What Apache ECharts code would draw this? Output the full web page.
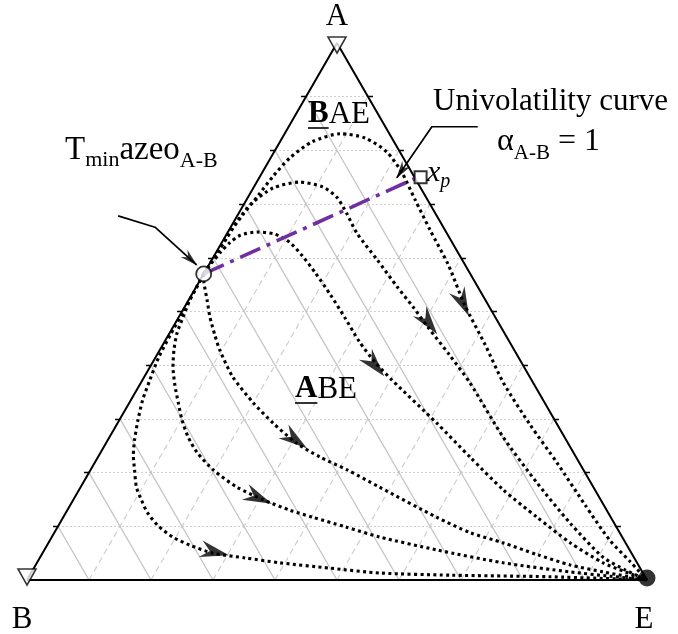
<!DOCTYPE html>
<html><head><meta charset="utf-8">
<script src="https://cdn.jsdelivr.net/npm/echarts@6/dist/echarts.min.js"></script>
<style>html,body{margin:0;padding:0;background:#fff}#c{width:678px;height:634px}</style>
</head><body><div id="c"></div>
<script>
// All compositions are ternary mole fractions [xA, xE]  (xB = 1 - xA - xE)
const gridTicks = [0.1, 0.2, 0.3, 0.4, 0.5, 0.6, 0.7, 0.8, 0.9];
const vertexA = [1, 0], vertexB = [0, 0], vertexE = [0, 1];
const azeotropeAB = [0.57, 0];
const pointXp = [0.75, 0.255];

const curve1 = [[0.57,0],[0.609,0.002],[0.642,0.003],[0.680,0.008],[0.717,0.015],[0.752,0.021],[0.786,0.031],[0.816,0.052],[0.831,0.090],[0.823,0.134],[0.797,0.182],[0.758,0.226],[0.708,0.272],[0.652,0.324],[0.587,0.386],[0.512,0.450],[0.438,0.520],[0.367,0.585],[0.289,0.667],[0.218,0.746],[0.140,0.830],[0.074,0.903],[0.034,0.956],[0,1]];
const curve2 = [[0.57,0],[0.605,0.002],[0.637,0.004],[0.670,0.005],[0.702,0.012],[0.730,0.032],[0.741,0.069],[0.732,0.111],[0.713,0.143],[0.683,0.174],[0.646,0.209],[0.596,0.267],[0.546,0.324],[0.508,0.369],[0.471,0.411],[0.419,0.472],[0.367,0.531],[0.266,0.635],[0.181,0.732],[0.106,0.823],[0.043,0.907],[0.019,0.955],[0,1]];
const curve3 = [[0.57,0],[0.592,0.003],[0.611,0.007],[0.628,0.013],[0.642,0.023],[0.648,0.047],[0.644,0.078],[0.629,0.109],[0.603,0.143],[0.572,0.179],[0.531,0.224],[0.488,0.269],[0.443,0.315],[0.406,0.358],[0.372,0.403],[0.292,0.515],[0.229,0.600],[0.168,0.684],[0.117,0.764],[0.069,0.842],[0.032,0.913],[0.015,0.958],[0,1]];
const curve4 = [[0.57,0],[0.553,0.009],[0.521,0.030],[0.490,0.050],[0.456,0.075],[0.428,0.097],[0.378,0.143],[0.330,0.200],[0.292,0.251],[0.255,0.307],[0.229,0.358],[0.205,0.414],[0.173,0.482],[0.117,0.602],[0.088,0.671],[0.069,0.734],[0.047,0.800],[0.028,0.862],[0.015,0.922],[0,1]];
const curve5 = [[0.57,0],[0.549,0.001],[0.521,0.002],[0.490,0.007],[0.460,0.012],[0.428,0.023],[0.397,0.037],[0.363,0.057],[0.330,0.079],[0.298,0.101],[0.266,0.127],[0.238,0.155],[0.205,0.198],[0.173,0.252],[0.149,0.307],[0.130,0.359],[0.117,0.402],[0.099,0.464],[0.080,0.529],[0.056,0.633],[0.032,0.752],[0.015,0.869],[0.007,0.937],[0,1]];
const curve6 = [[0.57,0],[0.540,0.001],[0.499,0.002],[0.456,0.003],[0.415,0.005],[0.372,0.012],[0.335,0.019],[0.298,0.030],[0.261,0.043],[0.233,0.055],[0.205,0.071],[0.173,0.090],[0.149,0.110],[0.125,0.132],[0.101,0.161],[0.080,0.195],[0.065,0.230],[0.050,0.275],[0.041,0.332],[0.032,0.392],[0.022,0.478],[0.013,0.563],[0.009,0.678],[0.006,0.841],[0,1]];
const arrowPoints = [[0.516,0.445],[0.479,0.408],[0.400,0.361],[0.261,0.302],[0.153,0.297],[0.052,0.277]];
const uniLeader = [[0.844,0.305],[0.844,0.231],[0.749,0.222]];
const tminLeader = [[0.678,-0.192],[0.657,-0.122],[0.587,-0.020]];

const curves = [curve1, curve2, curve3, curve4, curve5, curve6];
const S3 = Math.sqrt(3) / 2;
function P(t) { return [t[1] + t[0] / 2, t[0] * S3]; }

// grid lines
const linesA = gridTicks.map(v => ({coords: [P([v, 0]), P([v, 1 - v])]}));
const linesE = gridTicks.map(v => ({coords: [P([0, v]), P([1 - v, v])]}));
const linesB = gridTicks.map(v => ({coords: [P([1 - v, 0]), P([0, 1 - v])]}));
const tk = 0.008;
const ticks = [];
gridTicks.forEach(v => {
  const b = P([0, v]); ticks.push({coords: [b, [b[0], b[1] - tk]]});
  const l = P([v, 0]); ticks.push({coords: [l, [l[0] - tk, l[1]]]});
  const r = P([v, 1 - v]); ticks.push({coords: [r, [r[0] + tk, r[1]]]});
});

function dirDeg(a, b) { return Math.atan2(b[1] - a[1], b[0] - a[0]) * 180 / Math.PI; }
const arrowData = arrowPoints.map((ap, i) => {
  const p = P(ap), c = curves[i].map(P);
  let best = 0, bd = 1e9;
  c.forEach((q, j) => { const d = (q[0]-p[0])**2 + (q[1]-p[1])**2; if (d < bd) { bd = d; best = j; } });
  const j0 = Math.max(0, best - 1), j1 = Math.min(c.length - 1, best + 1);
  return {value: p, symbolRotate: dirDeg(c[j0], c[j1])};
});
function leaderHead(pts) {
  const a = P(pts[pts.length - 2]), b = P(pts[pts.length - 1]);
  const ang = Math.atan2(b[1] - a[1], b[0] - a[0]);
  const back = 8 / 620;
  return {value: [b[0] - Math.cos(ang) * back, b[1] - Math.sin(ang) * back], symbolRotate: ang * 180 / Math.PI};
}

const arrowPath = 'path://M28,8 L0,0 L9,8 L0,16 Z';
const dotted = {color: '#000', width: 3.1, type: [3, 3.4], cap: 'butt'};

const series = [
  {type: 'lines', coordinateSystem: 'cartesian2d', silent: true, z: 1, data: linesA, lineStyle: {color: '#cfcfcf', width: 1, type: [2, 2], opacity: 1}},
  {type: 'lines', coordinateSystem: 'cartesian2d', silent: true, z: 1, data: linesE, lineStyle: {color: '#cfcfcf', width: 1.2, type: [6, 4], opacity: 1}},
  {type: 'lines', coordinateSystem: 'cartesian2d', silent: true, z: 1, data: linesB, lineStyle: {color: '#c4c4c4', width: 1.3, type: 'solid', opacity: 1}},
  {type: 'lines', coordinateSystem: 'cartesian2d', silent: true, z: 2, data: ticks, lineStyle: {color: '#000', width: 1.3, opacity: 1}},
  {type: 'line', silent: true, z: 2, symbol: 'none', data: [P(vertexB), P(vertexE), P(vertexA), P(vertexB)], lineStyle: {color: '#000', width: 2}},
];
curves.forEach(c => series.push({type: 'line', silent: true, z: 3, symbol: 'none', smooth: 0.25, data: c.map(P), lineStyle: dotted}));
series.push({type: 'scatter', silent: true, z: 4, symbol: arrowPath, symbolSize: [29, 17], itemStyle: {color: '#000'}, data: arrowData});
series.push({type: 'line', silent: true, z: 4, symbol: 'none', data: [P(azeotropeAB), P(pointXp)], lineStyle: {color: '#7030A0', width: 3.6, type: [22, 7, 4, 7]}});
series.push({type: 'line', silent: true, z: 4, symbol: 'none', data: uniLeader.map(P), lineStyle: {color: '#000', width: 1.7}});
series.push({type: 'line', silent: true, z: 4, symbol: 'none', data: tminLeader.map(P), lineStyle: {color: '#000', width: 1.7}});
series.push({type: 'scatter', silent: true, z: 5, symbol: arrowPath, symbolSize: [18, 10], itemStyle: {color: '#000'}, data: [leaderHead(uniLeader), leaderHead(tminLeader)]});
series.push({type: 'scatter', silent: true, z: 6, data: [
  {value: P(vertexA), symbol: 'triangle', symbolRotate: 180, symbolSize: [18, 16], symbolOffset: [0, 2], itemStyle: {color: '#fff', borderColor: '#000', borderWidth: 1.6}},
  {value: P(vertexB), symbol: 'triangle', symbolRotate: 180, symbolSize: [18, 16], symbolOffset: [0, -3], itemStyle: {color: '#fff', borderColor: '#000', borderWidth: 1.6}},
  {value: P(vertexE), symbol: 'circle', symbolSize: 17, symbolOffset: [0, -2], itemStyle: {color: '#000'}},
  {value: P(azeotropeAB), symbol: 'circle', symbolSize: 15, itemStyle: {color: '#fff', borderColor: '#000', borderWidth: 1.8}},
  {value: P(pointXp), symbol: 'rect', symbolSize: 12, symbolOffset: [3, 0], itemStyle: {color: '#fff', borderColor: '#000', borderWidth: 2}}
]});

// text helpers
const FF = '"Liberation Serif", "Times New Roman", serif';
const mctx = document.createElement('canvas').getContext('2d');
function fontStr(r) { return (r.italic ? 'italic ' : '') + (r.bold ? 'bold ' : '') + r.fs + 'px ' + FF; }
const graphics = [];
function runs(x, base, list) {
  let cx = x; const out = [];
  list.forEach(r => {
    const f = fontStr(r); mctx.font = f;
    const w = mctx.measureText(r.t).width;
    const by = base + (r.dy || 0);
    graphics.push({type: 'text', x: cx, y: by - 0.34 * r.fs, z: 10, silent: true,
      style: {text: r.t, font: f, fill: '#000', align: 'left', verticalAlign: 'middle', textAlign: 'left', textVerticalAlign: 'middle'}});
    out.push([cx, cx + w]);
    cx += w;
  });
  return out;
}
function centered(t, cx, base, fs) {
  mctx.font = fs + 'px ' + FF; const w = mctx.measureText(t).width;
  runs(cx - w / 2, base, [{t, fs}]);
}
function underline(x1, x2, y) {
  graphics.push({type: 'line', z: 10, silent: true, shape: {x1, y1: y, x2, y2: y}, style: {stroke: '#000', lineWidth: 1.6}});
}
centered('A', 337, 27, 31);
centered('B', 22, 630, 31);
centered('E', 644, 630, 31);
let r = runs(308, 125, [{t: 'B', fs: 31, bold: true}, {t: 'AE', fs: 31}]);
underline(r[0][0], r[0][1], 128);
r = runs(295, 400, [{t: 'A', fs: 31, bold: true}, {t: 'BE', fs: 31}]);
underline(r[0][0], r[0][1], 403);
runs(433, 112, [{t: 'Univolatility curve', fs: 31}]);
runs(497, 152, [{t: 'α', fs: 32}, {t: 'A-B', fs: 21, dy: 9}, {t: ' = 1', fs: 32}]);
runs(427, 183, [{t: 'x', fs: 30, italic: true}, {t: 'p', fs: 20, italic: true, dy: 6}]);
runs(65, 162, [{t: 'T', fs: 33}, {t: 'min', fs: 22, dy: 6}, {t: 'azeo', fs: 33}, {t: 'A-B', fs: 22, dy: 7}]);

const chart = echarts.init(document.getElementById('c'), null, {renderer: 'canvas'});
chart.setOption({
  animation: false,
  backgroundColor: '#fff',
  grid: {left: 27, right: 31, top: 43, bottom: 54, containLabel: false},
  xAxis: {type: 'value', min: 0, max: 1, show: false},
  yAxis: {type: 'value', min: 0, max: S3, show: false},
  series: series,
  graphic: graphics
});
</script>
</body></html>
